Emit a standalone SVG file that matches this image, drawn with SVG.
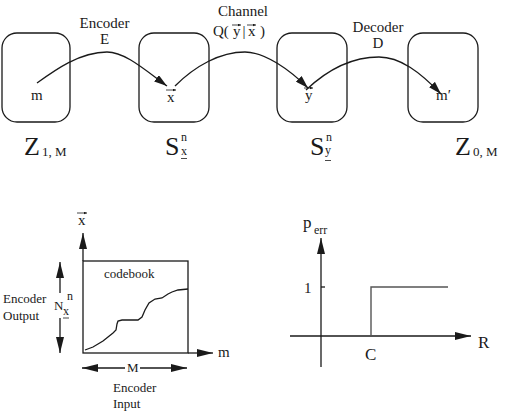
<svg xmlns="http://www.w3.org/2000/svg" width="516" height="415" viewBox="0 0 516 415">
<style>
text{font-family:"Liberation Serif","Times New Roman",serif;fill:#1a1a1a}
.box{fill:none;stroke:#1a1a1a;stroke-width:1.3}
.ln{fill:none;stroke:#1a1a1a;stroke-width:1.3}
.t15{font-size:15px}
.t13{font-size:13px}
.big{font-size:26px}
.sub{font-size:13px}
.sup{font-size:12px}
.vec{fill:none;stroke:#1a1a1a;stroke-width:0.8}
</style>
<defs>
<marker id="ah" markerUnits="userSpaceOnUse" markerWidth="14" markerHeight="8" refX="13" refY="4" orient="auto"><path d="M0,0 L13,4 L0,8 z" fill="#1a1a1a"/></marker>
<marker id="ah2" markerUnits="userSpaceOnUse" markerWidth="17" markerHeight="8" refX="16" refY="4" orient="auto"><path d="M0,0 L16,4 L0,8 z" fill="#1a1a1a"/></marker>
<marker id="va" markerUnits="userSpaceOnUse" markerWidth="4" markerHeight="4" refX="3.5" refY="1.5" orient="auto"><path d="M0,0 L3.5,1.5 L0,3 z" fill="#1a1a1a"/></marker>
</defs>

<g id="node-z1m">
<rect class="box" x="2" y="33" width="68" height="89" rx="15"/>
<text class="t15" x="31" y="100">m</text>
<text class="big" x="24" y="155">Z</text>
<text class="sub" x="42" y="156">1, M</text>
</g>

<g id="node-sx">
<rect class="box" x="139" y="33" width="70" height="89" rx="15"/>
<path class="vec" d="M166,90 L176,90" marker-end="url(#va)"/>
<text class="t15" x="167" y="102">x</text>
<text class="big" x="165" y="155">S</text>
<text class="sup" x="181" y="141">n</text>
<text class="sup" x="181" y="155">x</text>
<path class="vec" d="M181,158.5 L187,158.5"/>
</g>

<g id="node-sy">
<rect class="box" x="277" y="33" width="70" height="89" rx="15"/>
<path class="vec" d="M304,88 L313,88" marker-end="url(#va)"/>
<text class="t15" x="305" y="100">y</text>
<text class="big" x="310" y="155">S</text>
<text class="sup" x="326" y="141">n</text>
<text class="sup" x="325" y="154">y</text>
<path class="vec" d="M325,160.5 L331,160.5"/>
</g>

<g id="node-z0m">
<rect class="box" x="408" y="33" width="70" height="89" rx="15"/>
<text class="t15" x="436" y="100">m′</text>
<text class="big" x="455" y="155">Z</text>
<text class="sub" x="473" y="156">0, M</text>
</g>

<g id="connectors">
<path class="ln" d="M37,83 C55,70 80,52 107,52 C125,52 145,70 167,86" marker-end="url(#ah)"/>
<path class="ln" d="M175,86 C195,66 220,52 245,52 C265,52 290,70 308,88" marker-end="url(#ah)"/>
<path class="ln" d="M306,90 C325,72 350,57 379,57 C400,57 420,72 441,94" marker-end="url(#ah)"/>
<text class="t15" x="104.5" y="28" text-anchor="middle">Encoder</text>
<text class="t15" x="104.5" y="44" text-anchor="middle">E</text>
<text class="t15" x="243" y="16" text-anchor="middle">Channel</text>
<text class="t15" x="213" y="36">Q(</text>
<text class="t15" x="233" y="36">y</text>
<path class="vec" d="M232,25 L241,25" marker-end="url(#va)"/>
<text class="t15" x="242.5" y="36">|</text>
<text class="t15" x="248" y="36">x</text>
<path class="vec" d="M247,25 L256,25" marker-end="url(#va)"/>
<text class="t15" x="260" y="36">)</text>
<text class="t15" x="378" y="32" text-anchor="middle">Decoder</text>
<text class="t15" x="378" y="48" text-anchor="middle">D</text>
</g>

<g id="codebook-chart">
<rect class="box" x="83" y="261" width="105" height="92"/>
<path class="ln" d="M83,261 L83,233" marker-end="url(#ah2)"/>
<path class="ln" d="M188,353 L213,353" marker-end="url(#ah2)"/>
<path class="vec" d="M77,213 L87,213" marker-end="url(#va)"/>
<text class="t15" x="78" y="225">x</text>
<text class="t15" x="218" y="357">m</text>
<text class="t13" x="104" y="278">codebook</text>
<path class="ln" d="M85,350 L93,347 L98,344 L103,341 L108,337 L113,333 L116,330 L117,324 L118,321 L122,320 L138,320 L142,317 L145,310 L149,303 L155,299 L162,298 L168,294 L172,292 L178,290 L188,289"/>
<path class="ln" d="M60,293 L60,262" marker-end="url(#ah2)"/>
<path class="ln" d="M60,318 L60,353" marker-end="url(#ah2)"/>
<text class="t13" x="54" y="310">N</text>
<text class="sup" x="63" y="315">x</text>
<path class="vec" d="M63,318 L69,318"/>
<text class="sup" x="67" y="300">n</text>
<text class="t13" x="3" y="303">Encoder</text>
<text class="t13" x="3" y="320">Output</text>
<path class="ln" d="M125,368 L82,368" marker-end="url(#ah2)"/>
<path class="ln" d="M140,368 L187,368" marker-end="url(#ah2)"/>
<text class="t13" x="127" y="372">M</text>
<text class="t13" x="113" y="392">Encoder</text>
<text class="t13" x="113" y="408">Input</text>
</g>

<g id="perr-chart">
<path class="ln" d="M321,367 L321,238" marker-end="url(#ah2)"/>
<path class="ln" d="M290,336 L471,336" marker-end="url(#ah2)"/>
<path class="ln" d="M321,287 L325,287"/>
<path d="M371,336 L371,287 L448,287" fill="none" stroke="#555" stroke-width="1.4"/>
<text class="t15" x="304" y="293">1</text>
<text x="365" y="360" style="font-size:17px">C</text>
<text x="478" y="348" style="font-size:17px">R</text>
<text x="303" y="228" style="font-size:17px">p</text>
<text class="sup" x="314" y="234">err</text>
</g>
</svg>
